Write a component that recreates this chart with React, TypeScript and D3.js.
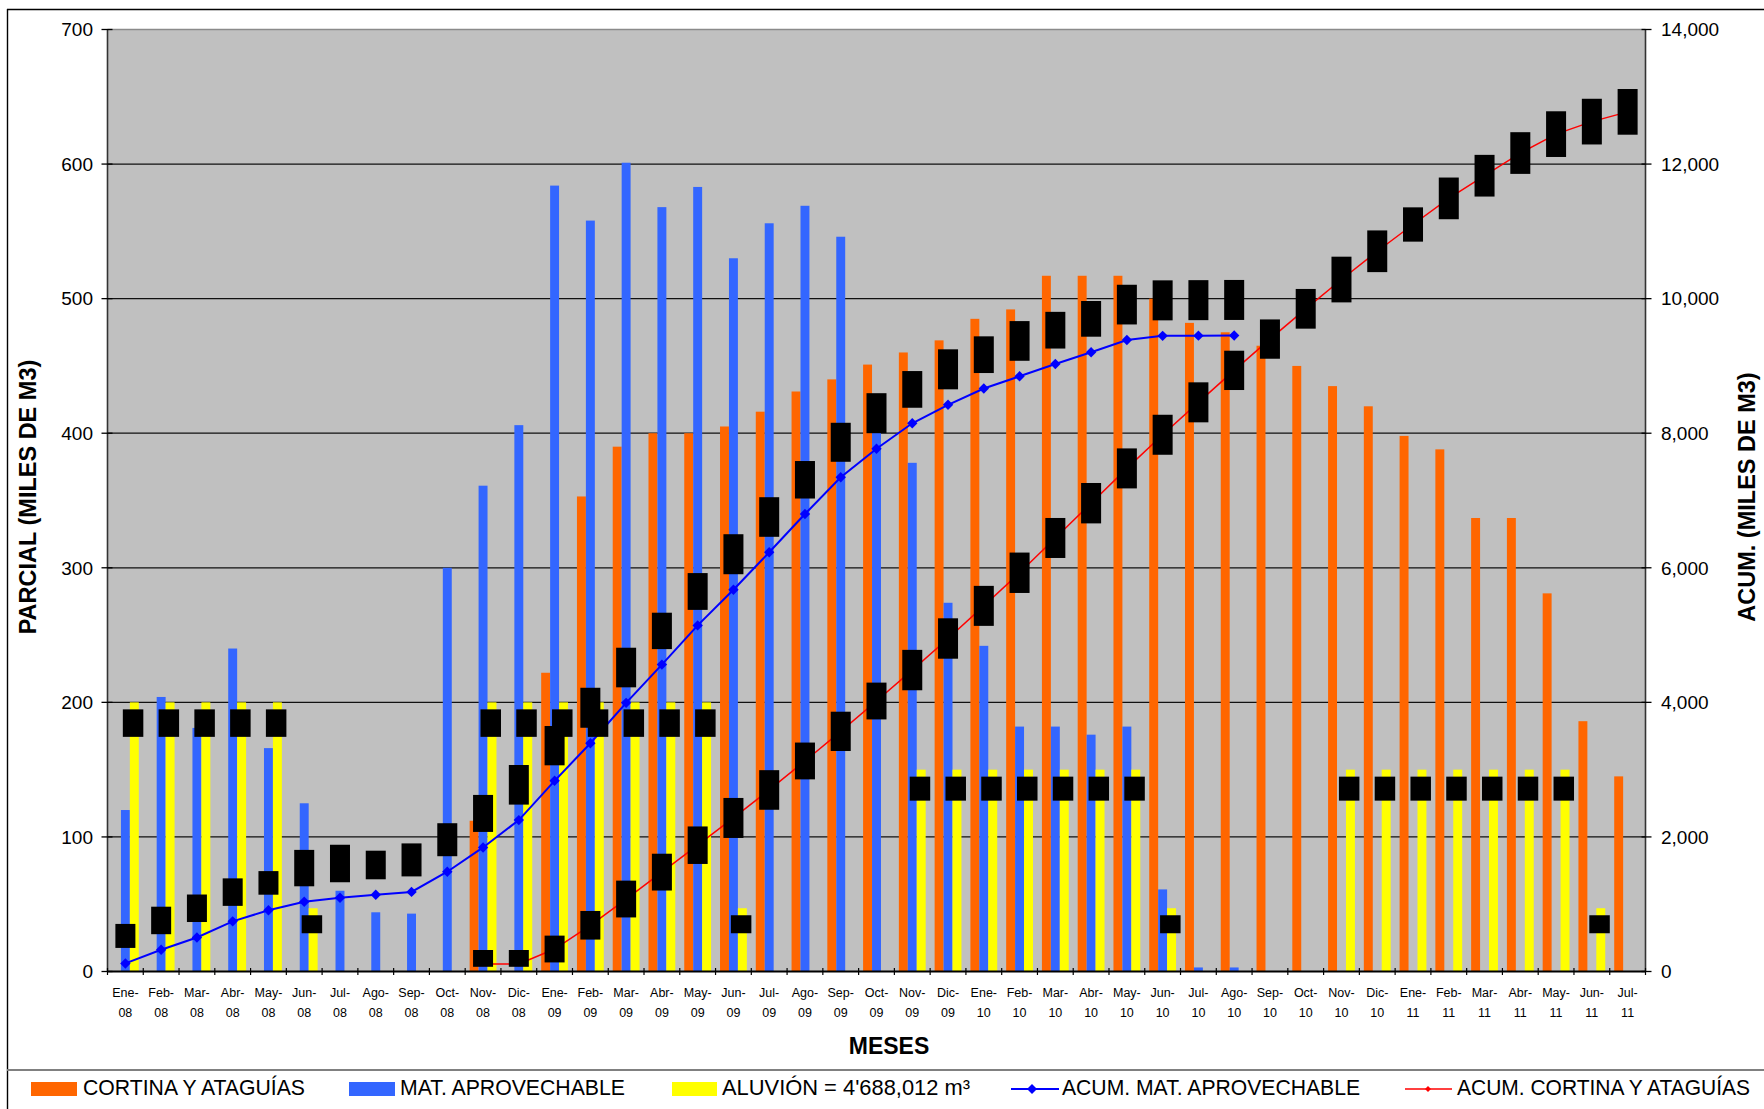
import React from "react";
import * as d3 from "d3";

const categories = [
  "Ene-08", "Feb-08", "Mar-08", "Abr-08", "May-08", "Jun-08", "Jul-08", "Ago-08", "Sep-08", "Oct-08", "Nov-08", "Dic-08",
  "Ene-09", "Feb-09", "Mar-09", "Abr-09", "May-09", "Jun-09", "Jul-09", "Ago-09", "Sep-09", "Oct-09", "Nov-09", "Dic-09",
  "Ene-10", "Feb-10", "Mar-10", "Abr-10", "May-10", "Jun-10", "Jul-10", "Ago-10", "Sep-10", "Oct-10", "Nov-10", "Dic-10",
  "Ene-11", "Feb-11", "Mar-11", "Abr-11", "May-11", "Jun-11", "Jul-11",
];

// CORTINA Y ATAGUÍAS (parcial, miles de m3)
const cortina = [
  0, 0, 0, 0, 0, 0, 0, 0, 0, 0, 112, 0,
  222, 353, 390, 400, 400, 405, 416, 431, 440, 451, 460, 469,
  485, 492, 517, 517, 517, 500, 482, 475, 465, 450, 435, 420,
  398, 388, 337, 337, 281, 186, 145,
];

// MAT. APROVECHABLE (parcial)
const matAprovechable = [
  120, 204, 181, 240, 166, 125, 60, 44, 43, 300, 361, 406,
  584, 558, 601, 568, 583, 530, 556, 569, 546, 425, 378, 274,
  242, 182, 182, 176, 182, 61, 3, 3, 0, 0, 0, 0,
  0, 0, 0, 0, 0, 0, 0,
];

// ALUVIÓN (parcial)
const aluvion = [
  200, 200, 200, 200, 200, 47, 0, 0, 0, 0, 200, 200,
  200, 200, 200, 200, 200, 47, 0, 0, 0, 0, 150, 150,
  150, 150, 150, 150, 150, 47, 0, 0, 0, 0, 150, 150,
  150, 150, 150, 150, 150, 47, 0,
];

// ACUM. MAT. APROVECHABLE (right axis)
const acumMat: (number | null)[] = [
  120, 324, 505, 745, 911, 1036, 1096, 1140, 1183, 1483, 1844, 2250,
  2834, 3392, 3993, 4561, 5144, 5674, 6230, 6799, 7345, 7770, 8148, 8422,
  8664, 8846, 9028, 9204, 9386, 9447, 9450, 9453, null, null, null, null,
  null, null, null, null, null, null, null,
];

// ACUM. CORTINA Y ATAGUÍAS (right axis)
const acumCortina: (number | null)[] = [
  null, null, null, null, null, null, null, null, null, null, 112, 112,
  334, 687, 1077, 1477, 1877, 2282, 2698, 3129, 3569, 4020, 4480, 4949,
  5434, 5926, 6443, 6960, 7477, 7977, 8459, 8934, 9399, 9849, 10284, 10704,
  11102, 11490, 11827, 12164, 12445, 12631, 12776,
];

const leftTicks = [0, 100, 200, 300, 400, 500, 600, 700];
const rightTicks = [0, 2000, 4000, 6000, 8000, 10000, 12000, 14000];

// heights (px) of the blacked-out data labels
const blueLabelH = [
  24, 27.5, 27.5, 27.5, 23.6, 36.4, 37.5, 28.6, 33, 33, 37, 39.6,
  39.3, 40, 39.6, 36.4, 36.8, 40, 39.6, 37.5, 39, 40, 36.7, 40,
  36.7, 39.7, 36.7, 35.7, 39.7, 40, 40, 40,
];
const redLabelH = [
  16.8, 16.8, 26.8, 28.6, 36.8, 36.8, 37.5, 40, 39.6, 36.8, 39.3, 36.8,
  40.4, 40.4, 40, 40.4, 40, 40.4, 40, 40, 40, 39.3, 39.3, 39.7, 45.7,
  41.7, 34.3, 41.7, 41.7, 41.7, 45.7, 45.7, 45.7,
];
const yellowLabelH: Record<number, number> = { 200: 27.5, 150: 24, 47: 18 };

const C_ORANGE = "#FF6600";
const C_BLUE = "#3366FF";
const C_YELLOW = "#FFFF00";
const C_LINE_BLUE = "#0000FF";
const C_LINE_RED = "#FF0000";
const FONT = "'Liberation Sans', Arial, Helvetica, sans-serif";

const W = 1764;
const H = 1109;
const PL = 107.5;
const PR = 1645.5;
const PT = 29.5;
const PB = 971.5;

const diamond = (r: number) => `M0,${-r}L${r},0L0,${r}L${-r},0Z`;

export default function App() {
  const x = d3.scaleBand<string>().domain(categories).range([PL, PR]).paddingInner(0).paddingOuter(0);
  const bw = x.bandwidth();
  const xs = d3.scaleBand<string>().domain(["c", "m", "a"]).range([0, bw]).paddingInner(0).paddingOuter(0.5);
  const sw = xs.bandwidth();
  const yL = d3.scaleLinear().domain([0, 700]).range([PB, PT]);
  const yR = d3.scaleLinear().domain([0, 14000]).range([PB, PT]);
  const cx = (i: number) => (x(categories[i]) as number) + bw / 2;

  const lineGen = d3
    .line<number | null>()
    .defined((d) => d != null)
    .x((_, i) => cx(i))
    .y((d) => yR(d as number));

  const bars = [
    { key: "c", data: cortina, color: C_ORANGE },
    { key: "m", data: matAprovechable, color: C_BLUE },
    { key: "a", data: aluvion, color: C_YELLOW },
  ];

  let bi = 0;
  let ri = 0;

  return (
    <svg
      width={W}
      height={H}
      viewBox={`0 0 ${W} ${H}`}
      style={{ position: "absolute", left: 0, top: 0, background: "#fff" }}
      fontFamily={FONT}
    >
      <rect x={0} y={0} width={W} height={H} fill="#fff" />
      {/* outer frame */}
      <line x1={7} x2={W} y1={9.5} y2={9.5} stroke="#000" strokeWidth={1.4} />
      <line x1={7.5} x2={7.5} y1={9} y2={H} stroke="#000" strokeWidth={1.4} />
      <line x1={7} x2={W} y1={1070} y2={1070} stroke="#808080" strokeWidth={2} />

      {/* plot area */}
      <rect x={PL} y={PT} width={PR - PL} height={PB - PT} fill="#C0C0C0" />
      <line x1={PL} x2={PR} y1={PT} y2={PT} stroke="#8a8a8a" strokeWidth={1.5} />
      {leftTicks.slice(1, -1).map((t) => (
        <line key={"g" + t} x1={PL} x2={PR} y1={yL(t)} y2={yL(t)} stroke="#111" strokeWidth={1.2} />
      ))}

      {/* bars */}
      {bars.map((s) =>
        s.data.map((v, i) =>
          v > 0 ? (
            <rect
              key={s.key + i}
              x={(x(categories[i]) as number) + (xs(s.key) as number)}
              y={yL(v)}
              width={sw}
              height={PB - yL(v)}
              fill={s.color}
            />
          ) : null
        )
      )}

      {/* accumulated lines */}
      <path d={lineGen(acumCortina) || ""} fill="none" stroke={C_LINE_RED} strokeWidth={1.5} />
      {acumCortina.map((v, i) =>
        v == null ? null : (
          <path key={"rm" + i} d={diamond(2.6)} transform={`translate(${cx(i)},${yR(v)})`} fill={C_LINE_RED} />
        )
      )}
      <path d={lineGen(acumMat) || ""} fill="none" stroke={C_LINE_BLUE} strokeWidth={2} />
      {acumMat.map((v, i) =>
        v == null ? null : (
          <path key={"bm" + i} d={diamond(5.2)} transform={`translate(${cx(i)},${yR(v)})`} fill={C_LINE_BLUE} />
        )
      )}

      {/* blacked-out data labels */}
      {aluvion.map((v, i) => {
        if (v <= 0) return null;
        const xc = (x(categories[i]) as number) + (xs("a") as number) + sw / 2;
        const h = yellowLabelH[v] ?? 24;
        return <rect key={"yl" + i} x={xc - 11.5} y={yL(v) + 7} width={20.5} height={h} fill="#000" />;
      })}
      {acumMat.map((v, i) => {
        if (v == null) return null;
        const h = blueLabelH[bi++];
        return <rect key={"bl" + i} x={cx(i) - 10} y={yR(v) - 15.5 - h} width={20} height={h} fill="#000" />;
      })}
      {acumCortina.map((v, i) => {
        if (v == null) return null;
        const h = redLabelH[ri++];
        const top = Math.min(yR(v) - h / 2, PB - 4.7 - h);
        return <rect key={"rl" + i} x={cx(i) - 10} y={top} width={20} height={h} fill="#000" />;
      })}

      {/* axes */}
      <line x1={PL} x2={PL} y1={PT} y2={PB} stroke="#333" strokeWidth={1.6} />
      <line x1={PR} x2={PR} y1={PT} y2={PB} stroke="#333" strokeWidth={1.6} />
      <line x1={PL} x2={PR} y1={PB} y2={PB} stroke="#000" strokeWidth={2} />
      {leftTicks.map((t) => (
        <g key={"lt" + t}>
          <line x1={PL - 6} x2={PL + 5} y1={yL(t)} y2={yL(t)} stroke="#000" strokeWidth={1.3} />
          <text x={93} y={yL(t) + 6.8} textAnchor="end" fontSize={19} fill="#000">
            {d3.format("d")(t)}
          </text>
        </g>
      ))}
      {rightTicks.map((t) => (
        <g key={"rt" + t}>
          <line x1={PR - 4} x2={PR + 6} y1={yR(t)} y2={yR(t)} stroke="#000" strokeWidth={1.3} />
          <text x={1661} y={yR(t) + 6.8} textAnchor="start" fontSize={19} fill="#000">
            {d3.format(",")(t)}
          </text>
        </g>
      ))}
      {categories.map((c, i) => (
        <line
          key={"xt" + i}
          x1={x(c) as number}
          x2={x(c) as number}
          y1={PB - 3.5}
          y2={PB + 3.5}
          stroke="#000"
          strokeWidth={1.2}
        />
      ))}
      <line x1={PR} x2={PR} y1={PB - 3.5} y2={PB + 3.5} stroke="#000" strokeWidth={1.2} />
      {categories.map((c, i) => {
        const [m, yy] = c.split("-");
        return (
          <text key={"xl" + i} x={cx(i)} textAnchor="middle" fontSize={12.5} fill="#000">
            <tspan x={cx(i)} y={996.7}>{m + "-"}</tspan>
            <tspan x={cx(i)} y={1016.7}>{yy}</tspan>
          </text>
        );
      })}

      {/* axis titles */}
      <text
        transform={`translate(36,497) rotate(-90)`}
        textAnchor="middle"
        fontSize={23.5}
        fontWeight="bold"
        fill="#000"
      >
        PARCIAL (MILES DE M3)
      </text>
      <text
        transform={`translate(1755,497) rotate(-90)`}
        textAnchor="middle"
        fontSize={23.5}
        fontWeight="bold"
        fill="#000"
      >
        ACUM. (MILES DE M3)
      </text>
      <text x={889} y={1054} textAnchor="middle" fontSize={23} fontWeight="bold" fill="#000">
        MESES
      </text>

      {/* legend */}
      <g fontSize={21.5} fill="#000">
        <rect x={31} y={1082} width={46} height={14} fill={C_ORANGE} />
        <text x={83} y={1095} textLength={222} lengthAdjust="spacingAndGlyphs">CORTINA Y ATAGUÍAS</text>
        <rect x={349} y={1082} width={46} height={14} fill={C_BLUE} />
        <text x={400} y={1095} textLength={225} lengthAdjust="spacingAndGlyphs">MAT. APROVECHABLE</text>
        <rect x={672} y={1082} width={45} height={14} fill={C_YELLOW} />
        <text x={722} y={1095} textLength={248} lengthAdjust="spacingAndGlyphs">ALUVIÓN = 4'688,012 m³</text>
        <line x1={1011} x2={1059} y1={1089} y2={1089} stroke={C_LINE_BLUE} strokeWidth={2} />
        <path d={diamond(5)} transform="translate(1032,1089)" fill={C_LINE_BLUE} />
        <text x={1062} y={1095} textLength={298} lengthAdjust="spacingAndGlyphs">ACUM. MAT. APROVECHABLE</text>
        <line x1={1405} x2={1452} y1={1089} y2={1089} stroke={C_LINE_RED} strokeWidth={1.5} />
        <path d={diamond(3)} transform="translate(1428,1089)" fill={C_LINE_RED} />
        <text x={1457} y={1095} textLength={293} lengthAdjust="spacingAndGlyphs">ACUM. CORTINA Y ATAGUÍAS</text>
      </g>
    </svg>
  );
}
